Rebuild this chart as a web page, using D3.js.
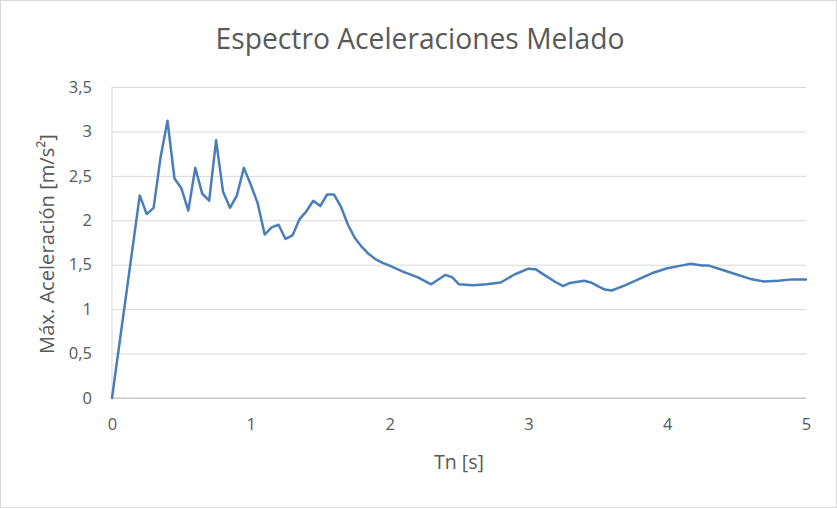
<!DOCTYPE html>
<html><head><meta charset="utf-8">
<script src="https://cdn.jsdelivr.net/npm/d3@7"></script>
<style>body{margin:0;background:#fff}svg{display:block}</style>
</head><body>
<script>
const title = "Espectro Aceleraciones Melado";
const xTitle = "Tn [s]";
const yTitle = "Máx. Aceleración [m/s²]";
const xTicks = [0,1,2,3,4,5];
const yTicks = [0,0.5,1,1.5,2,2.5,3,3.5];
const tn = [0,0.2,0.25,0.3,0.35,0.4,0.45,0.5,0.55,0.6,0.65,0.7,0.75,0.8,0.85,0.9,0.95,1.0,1.05,1.1,1.15,1.2,1.25,1.3,1.35,1.4,1.45,1.5,1.55,1.6,1.65,1.7,1.75,1.8,1.85,1.9,1.95,2.0,2.1,2.2,2.3,2.4,2.45,2.5,2.6,2.7,2.8,2.9,3.0,3.05,3.1,3.2,3.25,3.3,3.4,3.45,3.5,3.55,3.6,3.7,3.8,3.9,4.0,4.1,4.17,4.25,4.3,4.4,4.5,4.6,4.7,4.8,4.9,5.0];
const acc = [0,2.28,2.07,2.14,2.71,3.12,2.47,2.36,2.11,2.59,2.30,2.22,2.90,2.32,2.14,2.28,2.59,2.40,2.19,1.84,1.92,1.95,1.79,1.83,2.01,2.10,2.22,2.16,2.29,2.29,2.15,1.95,1.80,1.70,1.62,1.56,1.52,1.49,1.42,1.36,1.28,1.385,1.36,1.28,1.27,1.28,1.30,1.39,1.455,1.45,1.40,1.30,1.26,1.295,1.32,1.30,1.26,1.22,1.21,1.27,1.34,1.41,1.46,1.49,1.51,1.49,1.49,1.44,1.39,1.34,1.31,1.32,1.335,1.335];

const W = 837, H = 508;
const svg = d3.select("body").append("svg").attr("width", W).attr("height", H);
svg.append("rect").attr("x",0.5).attr("y",0.5).attr("width",W-1).attr("height",H-1)
  .attr("fill","#fff").attr("stroke","#d9d9d9");

const x = d3.scaleLinear().domain([0,5]).range([112,806]);
const y = d3.scaleLinear().domain([0,3.5]).range([398,87]);
const font = "'Open Sans', 'Noto Sans', sans-serif";
const fmt = v => String(v).replace(".", ",");

// gridlines
const gy = svg.append("g").attr("transform","translate(112,0)")
  .call(d3.axisLeft(y).tickValues(yTicks).tickSize(-(806-112)).tickFormat(""));
gy.select(".domain").remove();
gy.selectAll(".tick line").attr("stroke","#d9d9d9").attr("stroke-width",1);
// left axis line
svg.append("line").attr("x1",112).attr("x2",112).attr("y1",87).attr("y2",398).attr("stroke","#d9d9d9");
// bottom axis line
svg.append("line").attr("x1",112).attr("x2",806).attr("y1",398).attr("y2",398).attr("stroke","#bfbfbf");

// y tick labels
const yl = svg.append("g").attr("transform","translate(112,0)")
  .call(d3.axisLeft(y).tickValues(yTicks).tickSize(0).tickPadding(20).tickFormat(fmt));
yl.select(".domain").remove();
yl.selectAll("text").attr("font-family",font).attr("font-size",16.5).attr("fill","#595959");

// x tick labels
const xl = svg.append("g").attr("transform","translate(0,398)")
  .call(d3.axisBottom(x).tickValues(xTicks).tickSize(0).tickPadding(20).tickFormat(fmt));
xl.select(".domain").remove();
xl.selectAll("text").attr("font-family",font).attr("font-size",16.5).attr("fill","#595959");

// line
const line = d3.line().x((d,i)=>x(tn[i])).y((d,i)=>y(acc[i]));
svg.append("path").datum(acc).attr("d",line).attr("fill","none")
  .attr("stroke","#4a7ebb").attr("stroke-width",2.5).attr("stroke-linejoin","round").attr("stroke-linecap","round");

// titles
function fitText(sel, w){
  const cur = sel.node().getComputedTextLength();
  const fs = parseFloat(sel.attr("font-size"));
  sel.attr("font-size", fs*w/cur);
}
const t = svg.append("text").attr("x",420).attr("y",49).attr("text-anchor","middle")
  .attr("font-family",font).attr("font-size",20).attr("fill","#595959").text(title);
fitText(t, 409);
const xt = svg.append("text").attr("x",459).attr("y",469).attr("text-anchor","middle")
  .attr("font-family",font).attr("font-size",14).attr("fill","#595959").text(xTitle);
fitText(xt, 50);
const yt = svg.append("text").attr("transform","translate(54,244) rotate(-90)").attr("text-anchor","middle")
  .attr("font-family",font).attr("font-size",16).attr("fill","#595959").text(yTitle);
fitText(yt, 220);
</script>
</body></html>
